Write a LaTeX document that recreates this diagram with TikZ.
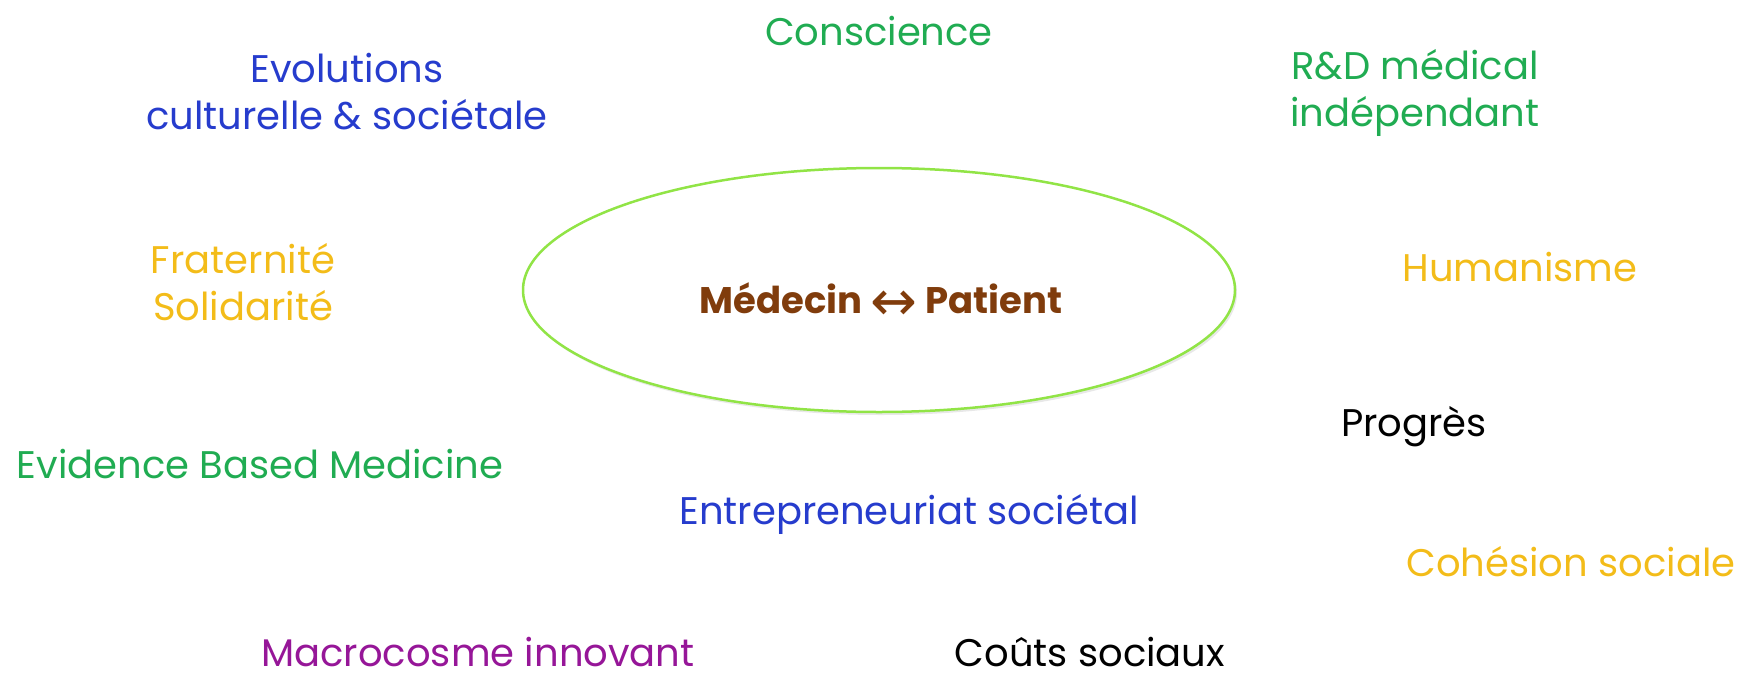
\documentclass[tikz,border=0pt]{standalone}
\usepackage{fontspec}
\setmainfont{Poppins}
\newfontfamily\symfont{DejaVu Sans}
\usepackage{xcolor}
\usetikzlibrary{shapes.geometric}
\usetikzlibrary{shadows}

\definecolor{txtblue}{RGB}{38,60,205}
\definecolor{txtgreen}{RGB}{32,172,82}
\definecolor{txtgold}{RGB}{243,188,25}
\definecolor{txtpurple}{RGB}{150,22,152}
\definecolor{txtbrown}{RGB}{128,60,12}
\definecolor{ringgreen}{RGB}{145,228,70}

\tikzset{
  word/.style={font=\fontsize{38.5}{47}\selectfont, align=center, inner sep=0pt},
  hub/.style={ellipse, draw=ringgreen, line width=2.5pt, fill=white,
    minimum width=712pt, minimum height=244pt, inner sep=0pt,
    drop shadow={opacity=0.18, shadow xshift=2pt, shadow yshift=-3pt}}
}

\begin{document}
\begin{tikzpicture}[x=1pt,y=-1pt]
\useasboundingbox (0,0) rectangle (1742,672);
\node [hub] (rel) at (879,290) {};
\node [word, anchor=base, text=txtbrown, font=\fontsize{37}{47}\selectfont\bfseries] (mp) at (881,313) {Médecin \raisebox{-7pt}{\symfont\fontsize{56}{47}\selectfont\mdseries ↔} Patient};

\node [word, anchor=base, text=txtgreen] (consc) at (879,45) {Conscience};
\node [word, text=txtblue] (evol) at (347,92) {Evolutions\\culturelle \& sociétale};
\node [word, text=txtgreen] (rd) at (1415,93) {R\&D médical\\indépendant};
\node [word, text=txtgold] (frat) at (243,282) {Fraternité\\Solidarité};
\node [word, anchor=base, text=txtgold] (hum) at (1520,281) {Humanisme};
\node [word, anchor=base] (prog) at (1414,436) {Progrès};
\node [word, anchor=base, text=txtgreen] (ebm) at (260,478) {Evidence Based Medicine};
\node [word, anchor=base, text=txtblue] (entr) at (909,524) {Entrepreneuriat sociétal};
\node [word, anchor=base, text=txtgold] (cohe) at (1571,576) {Cohésion sociale};
\node [word, anchor=base, text=txtpurple] (macro) at (478,666) {Macrocosme innovant};
\node [word, anchor=base] (couts) at (1090,666) {Coûts sociaux};
\end{tikzpicture}
\end{document}
